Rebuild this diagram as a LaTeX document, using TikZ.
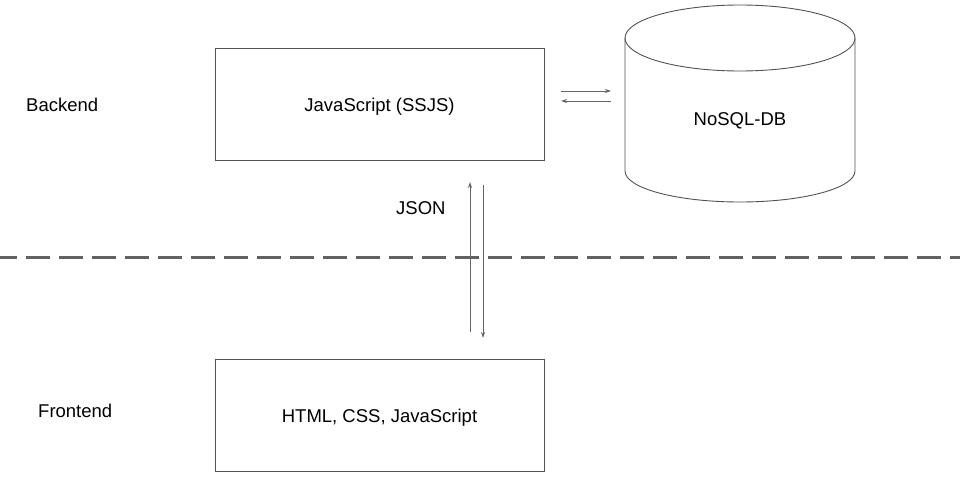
\documentclass[tikz,border=0pt]{standalone}
\usepackage{fontspec}
\setmainfont{Liberation Sans}
\usetikzlibrary{arrows.meta}
\begin{document}
\begin{tikzpicture}[x=1pt,y=-1pt,
  box/.style={draw=black!68,line width=0.9pt,minimum width=329pt,minimum height=112pt,inner sep=0pt},
  lbl/.style={font=\fontsize{18.5}{21}\selectfont,anchor=base,inner sep=0pt},
  flow/.style={draw=black!60,line width=0.8pt,-{Stealth[length=6pt,width=4pt]}},
  divider/.style={draw=black!62,line width=3pt,dash pattern=on 24pt off 9pt,dash phase=7pt}]
  \useasboundingbox (0,0) rectangle (960,484);

  % tiers
  \node[box] (js) at (379.5,104) {};
  \node[box] (fe) at (379.5,415) {};
  \node[lbl] (jst) at (379.5,112) {JavaScript (SSJS)};
  \node[lbl] (fet) at (379.5,422) {HTML, CSS, JavaScript};
  \node[lbl,anchor=base west] (back) at (26,112) {Backend};
  \node[lbl,anchor=base west] (front) at (38,417) {Frontend};
  \node[lbl,anchor=base west] (json) at (396,214) {JSON};

  % database cylinder
  \draw[draw=black!68,line width=0.9pt]
    (625,38) -- (625,171) arc[start angle=180,end angle=0,x radius=115,y radius=31]
    -- (855,38);
  \draw[draw=black!68,line width=0.9pt] (740,38) ellipse[x radius=115,y radius=33];
  \node[lbl] (db) at (740,125) {NoSQL-DB};

  % section divider
  \draw[divider] (0,257) -- (960,257);

  % connectors
  \coordinate (r1) at (561,91);  \coordinate (r2) at (611,91);
  \coordinate (l1) at (611,101); \coordinate (l2) at (561,101);
  \coordinate (u1) at (470,332); \coordinate (u2) at (470,182);
  \coordinate (d1) at (483,185); \coordinate (d2) at (483,338);
  \draw[flow] (r1) -- (r2);
  \draw[flow] (l1) -- (l2);
  \draw[flow] (u1) -- (u2);
  \draw[flow] (d1) -- (d2);
\end{tikzpicture}
\end{document}
